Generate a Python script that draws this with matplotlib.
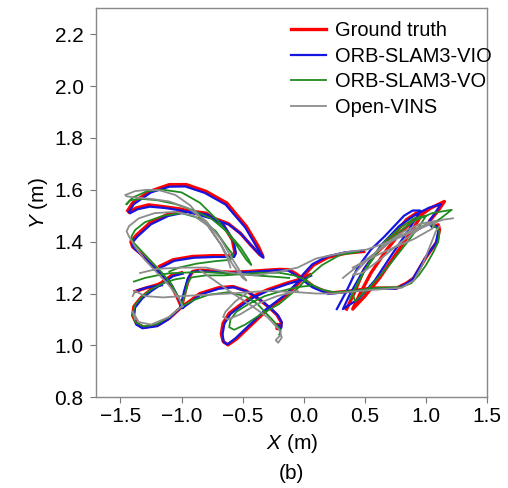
import numpy as np
import matplotlib
matplotlib.use("Agg")
import matplotlib.pyplot as plt

nan = np.nan

# Ground truth (strokes separated by nan)
gt_x = [-1.44, -1.40, -1.26, -1.10, -0.96, -0.80, -0.63, -0.47, -0.37, -0.335, -0.36, -0.44, -0.52, -0.62, -0.74, -0.88, -1.01, -1.15, -1.27, -1.37, -1.43, nan,
        -1.00, -1.04, -1.09, -1.15, -1.26, -1.34, -1.40, -1.415, -1.37, -1.26, -1.12, -0.96, -0.80, -0.66, -0.585, -0.565, -0.58, -0.74, -0.91, -1.07, -1.18, nan,
        -1.38, -1.30, -1.19, nan,
        0.35, 0.42, 0.49, 0.58, 0.68, 0.76, 0.84, 0.92, 0.98, 0.96, 0.88, 0.75, 0.62, 0.50, 0.40, 0.45, 0.55, 0.68, 0.80, 0.92, 1.04, 1.15, 1.10, 1.03, 1.06, 1.10,
        1.11, 1.09, 1.06, 1.00, 0.95, 0.90, 0.84, 0.76, 0.57, 0.35, 0.21, 0.14, 0.08, 0.00, -0.06, -0.12, -0.20, -0.30, -0.45, -0.60, -0.75, -0.85, -0.91, -0.94,
        -0.97, -1.00, -1.10, -1.19, -1.31, -1.37, -1.40, -1.39, -1.33, -1.25, -1.17, -1.08, -1.00, nan,
        -1.00, -0.92, -0.85, -0.70, -0.58, -0.47, -0.36, -0.28, -0.22, -0.185, -0.19, -0.22, -0.215, nan,
        0.49, 0.35, 0.20, 0.08, 0.00, -0.03, -0.15, -0.30, -0.45, -0.55, -0.62, -0.66, -0.675, -0.66, -0.61, -0.50, -0.42, -0.30, -0.14, -0.03, 0.05]
gt_y = [1.52, 1.55, 1.594, 1.62, 1.62, 1.594, 1.549, 1.459, 1.38, 1.343, 1.35, 1.39, 1.433, 1.47, 1.491, 1.51, 1.526, 1.535, 1.542, 1.53, 1.515, nan,
        1.148, 1.19, 1.235, 1.266, 1.317, 1.356, 1.38, 1.40, 1.425, 1.472, 1.504, 1.52, 1.51, 1.465, 1.407, 1.36, 1.346, 1.346, 1.343, 1.33, 1.305, nan,
        1.208, 1.22, 1.235, nan,
        1.14, 1.21, 1.29, 1.35, 1.395, 1.44, 1.485, 1.51, 1.517, 1.50, 1.44, 1.35, 1.26, 1.19, 1.14, 1.19, 1.28, 1.37, 1.44, 1.49, 1.53, 1.555, 1.52, 1.48, 1.459, 1.465,
        1.446, 1.40, 1.38, 1.34, 1.30, 1.26, 1.24, 1.221, 1.221, 1.208, 1.202, 1.215, 1.227, 1.255, 1.275, 1.292, 1.293, 1.29, 1.285, 1.282, 1.287, 1.29, 1.285, 1.26,
        1.21, 1.148, 1.105, 1.079, 1.07, 1.085, 1.115, 1.15, 1.185, 1.215, 1.24, 1.27, 1.28, nan,
        1.148, 1.175, 1.20, 1.222, 1.227, 1.21, 1.176, 1.145, 1.118, 1.09, 1.07, 1.065, 1.08, nan,
        1.362, 1.356, 1.34, 1.31, 1.27, 1.246, 1.19, 1.137, 1.07, 1.025, 1.002, 1.015, 1.045, 1.086, 1.124, 1.163, 1.188, 1.214, 1.24, 1.255, 1.272]

# ORB-SLAM3-VIO
vio_x = [-1.43, -1.39, -1.25, -1.10, -0.97, -0.81, -0.64, -0.48, -0.38, -0.33, -0.35, -0.43, -0.51, -0.61, -0.73, -0.87, -1.00, -1.14, -1.26, -1.36, -1.42, nan,
         -0.99, -1.03, -1.08, -1.14, -1.25, -1.33, -1.39, -1.405, -1.36, -1.25, -1.11, -0.95, -0.79, -0.65, -0.575, -0.555, -0.57, -0.73, -0.90, -1.06, -1.17, nan,
         -1.36, -1.28, -1.16, nan,
         0.27, 0.35, 0.44, 0.55, 0.66, 0.74, 0.82, 0.89, 0.95, 0.93, 0.85, 0.72, 0.58, 0.45, 0.32, 0.38, 0.50, 0.64, 0.78, 0.90, 1.02, 1.12, 1.08, 1.02, 1.05, 1.09,
         1.10, 1.08, 1.05, 0.99, 0.94, 0.89, 0.83, 0.75, 0.56, 0.34, 0.20, 0.13, 0.07, -0.01, -0.07, -0.13, -0.21, -0.31, -0.46, -0.61, -0.76, -0.86, -0.92, -0.95,
         -0.98, -1.01, -1.11, -1.20, -1.32, -1.37, -1.39, -1.38, -1.32, -1.24, -1.16, -1.07, -0.99, nan,
         -0.99, -0.91, -0.84, -0.69, -0.57, -0.46, -0.35, -0.27, -0.21, -0.18, -0.185, -0.21, -0.205, nan,
         0.48, 0.34, 0.19, 0.07, -0.01, -0.04, -0.16, -0.31, -0.46, -0.56, -0.625, -0.655, -0.665, -0.65, -0.60, -0.49, -0.41, -0.29, -0.13, -0.02, 0.06]
vio_y = [1.515, 1.545, 1.59, 1.612, 1.613, 1.588, 1.543, 1.455, 1.375, 1.338, 1.345, 1.385, 1.428, 1.465, 1.486, 1.505, 1.52, 1.53, 1.535, 1.525, 1.51, nan,
         1.145, 1.187, 1.232, 1.262, 1.312, 1.35, 1.375, 1.395, 1.42, 1.467, 1.499, 1.515, 1.505, 1.46, 1.402, 1.355, 1.341, 1.341, 1.338, 1.326, 1.300, nan,
         1.212, 1.224, 1.232, nan,
         1.14, 1.21, 1.30, 1.37, 1.42, 1.46, 1.50, 1.52, 1.52, 1.50, 1.44, 1.35, 1.25, 1.18, 1.14, 1.20, 1.30, 1.39, 1.46, 1.50, 1.53, 1.545, 1.515, 1.475, 1.455, 1.46,
         1.44, 1.395, 1.375, 1.335, 1.295, 1.255, 1.235, 1.218, 1.218, 1.205, 1.199, 1.212, 1.224, 1.252, 1.272, 1.289, 1.290, 1.287, 1.282, 1.279, 1.284, 1.287, 1.282, 1.257,
         1.207, 1.145, 1.10, 1.074, 1.066, 1.08, 1.11, 1.146, 1.182, 1.212, 1.237, 1.267, 1.277, nan,
         1.145, 1.172, 1.197, 1.219, 1.224, 1.207, 1.173, 1.142, 1.115, 1.088, 1.068, 1.062, 1.077, nan,
         1.365, 1.359, 1.343, 1.313, 1.272, 1.248, 1.192, 1.139, 1.072, 1.027, 1.004, 1.012, 1.042, 1.083, 1.121, 1.16, 1.185, 1.211, 1.237, 1.252, 1.269]

# ORB-SLAM3-VO
vo_x = [-1.45, -1.40, -1.28, -1.15, -1.00, -0.85, -0.70, -0.57, -0.47, -0.43, -0.45, -0.52, -0.63, -0.76, -0.90, -1.05, -1.20, -1.33, -1.42, -1.45, nan,
        -0.99, -1.03, -1.09, -1.16, -1.26, -1.34, -1.40, -1.41, -1.38, -1.30, -1.15, -1.00, -0.85, -0.72, -0.63, -0.58, -0.60, -0.72, -0.88, -1.02, -1.10, nan,
        -1.39, -1.30, -1.20, -1.10, -1.00, -0.85, -0.70, -0.55, -0.40, -0.25, -0.12, nan,
        0.38, 0.45, 0.55, 0.66, 0.78, 0.90, 1.00, 0.96, 0.85, 0.70, 0.55, 0.42, 0.40, 0.50, 0.62, 0.76, 0.90, 1.05, 1.21, 1.12, 1.04, 1.08, 1.11,
        1.10, 1.06, 1.00, 0.94, 0.88, 0.80, 0.60, 0.40, 0.25, 0.15, 0.08, 0.00, -0.08, -0.20, -0.35, -0.50, -0.65, -0.80, -0.92, -0.95,
        -0.97, -1.00, -1.10, -1.20, -1.31, -1.38, -1.40, -1.38, -1.32, -1.24, -1.15, -1.05, -0.98, nan,
        -1.00, -0.90, -0.78, -0.62, -0.48, -0.38, -0.30, -0.24, -0.20, -0.19, -0.20, -0.19, nan,
        0.45, 0.30, 0.15, 0.05, -0.05, -0.20, -0.35, -0.48, -0.57, -0.61, -0.60, -0.55, -0.45, -0.32, -0.18, -0.05, 0.05]
vo_y = [1.545, 1.57, 1.595, 1.60, 1.59, 1.55, 1.48, 1.40, 1.33, 1.31, 1.33, 1.38, 1.44, 1.49, 1.52, 1.545, 1.56, 1.565, 1.56, 1.545, nan,
        1.15, 1.19, 1.24, 1.28, 1.33, 1.37, 1.40, 1.42, 1.445, 1.475, 1.50, 1.51, 1.49, 1.44, 1.38, 1.35, 1.33, 1.325, 1.315, 1.30, 1.285, nan,
        1.246, 1.26, 1.27, 1.278, 1.28, 1.283, 1.28, 1.275, 1.27, 1.265, 1.26, nan,
        1.18, 1.25, 1.33, 1.40, 1.45, 1.49, 1.50, 1.47, 1.40, 1.31, 1.23, 1.17, 1.20, 1.29, 1.37, 1.43, 1.48, 1.51, 1.523, 1.49, 1.465, 1.455, 1.44,
        1.40, 1.36, 1.31, 1.27, 1.24, 1.225, 1.222, 1.21, 1.205, 1.215, 1.23, 1.255, 1.27, 1.28, 1.28, 1.275, 1.27, 1.27, 1.262, 1.24,
        1.20, 1.15, 1.11, 1.082, 1.073, 1.09, 1.12, 1.155, 1.19, 1.218, 1.24, 1.255, 1.26, nan,
        1.15, 1.175, 1.195, 1.205, 1.19, 1.16, 1.12, 1.09, 1.065, 1.05, 1.04, 1.06, nan,
        1.36, 1.35, 1.31, 1.27, 1.22, 1.16, 1.12, 1.08, 1.06, 1.07, 1.10, 1.13, 1.16, 1.19, 1.21, 1.225, 1.23]

# Open-VINS
ov_x = [-1.46, -1.38, -1.28, -1.18, -1.05, -0.93, -0.80, -0.68, -0.58, -0.50, -0.47, -0.50, -0.58, -0.68, -0.80, -0.95, -1.10, -1.25, -1.38, -1.45, nan,
        -0.99, -1.02, -1.10, -1.20, -1.30, -1.38, -1.43, -1.45, -1.43, -1.35, -1.22, -1.05, -0.90, -0.78, -0.68, -0.62, -0.60, nan,
        -1.34, -1.20, -1.00, -0.80, -0.60, -0.40, -0.20, -0.05, 0.10, 0.35, 0.51, 0.70, 0.90, 1.05, 1.14, 1.22, nan,
        0.32, 0.45, 0.62, 0.78, 0.89, 1.03, 0.98, 0.80, 0.62, 0.48, 0.40, 0.50, 0.66, 0.82, 0.96, 1.08, 1.05, 0.90, 0.70, 0.52, 0.40, nan,
        -1.40, -1.38, -1.30, -1.15, -1.00, -0.80, -0.60, -0.30, -0.05, 0.10, 0.25, 0.50, 0.80, 0.90, 0.97, 1.03, 1.08, 1.11, nan,
        -1.38, -1.40, -1.35, -1.25, -1.10, -1.00, nan,
        -0.85, -0.70, -0.58, -0.45, -0.30, -0.20, -0.18, -0.21, -0.23, -0.20, nan,
        -0.47, -0.56, -0.64, -0.66, -0.62, -0.52, -0.38, -0.22, -0.05]
ov_y = [1.58, 1.595, 1.60, 1.598, 1.58, 1.54, 1.47, 1.39, 1.31, 1.26, 1.25, 1.27, 1.33, 1.41, 1.48, 1.53, 1.555, 1.565, 1.57, 1.575, nan,
        1.15, 1.18, 1.23, 1.28, 1.33, 1.38, 1.42, 1.44, 1.46, 1.49, 1.51, 1.515, 1.50, 1.46, 1.39, 1.33, 1.30, nan,
        1.279, 1.295, 1.30, 1.30, 1.28, 1.27, 1.285, 1.30, 1.335, 1.36, 1.369, 1.40, 1.44, 1.47, 1.485, 1.49, nan,
        1.26, 1.31, 1.369, 1.42, 1.446, 1.472, 1.46, 1.40, 1.33, 1.28, 1.27, 1.32, 1.39, 1.44, 1.47, 1.48, 1.45, 1.41, 1.37, 1.33, 1.30, nan,
        1.19, 1.21, 1.19, 1.185, 1.19, 1.195, 1.20, 1.21, 1.205, 1.20, 1.20, 1.212, 1.222, 1.25, 1.31, 1.38, 1.44, 1.46, nan,
        1.10, 1.13, 1.09, 1.08, 1.11, 1.15, nan,
        1.29, 1.24, 1.20, 1.16, 1.11, 1.06, 1.03, 1.01, 1.02, 1.035, nan,
        1.20, 1.17, 1.13, 1.11, 1.10, 1.12, 1.16, 1.19, 1.21]

plt.rcParams['font.family'] = ['Liberation Sans', 'DejaVu Sans']
plt.rcParams['mathtext.fontset'] = 'custom'
plt.rcParams['mathtext.it'] = 'Liberation Sans:italic'
plt.rcParams['mathtext.rm'] = 'Liberation Sans'

fig = plt.figure(figsize=(5.08, 4.88), dpi=100)
ax = fig.add_axes([0.189, 0.186, 0.770, 0.797])

ax.plot(gt_x, gt_y, color='#ff0000', lw=2.4, label='Ground truth')
ax.plot(vio_x, vio_y, color='#1515e0', lw=1.6, label='ORB-SLAM3-VIO')
ax.plot(vo_x, vo_y, color='#1f8a1f', lw=1.3, label='ORB-SLAM3-VO')
ax.plot(ov_x, ov_y, color='#8c8c8c', lw=1.3, label='Open-VINS')

ax.set_xlim(-1.7, 1.5)
ax.set_ylim(0.8, 2.3)
ax.set_xticks([-1.5, -1.0, -0.5, 0.0, 0.5, 1.0, 1.5])
ax.set_yticks([0.8, 1.0, 1.2, 1.4, 1.6, 1.8, 2.0, 2.2])
ax.tick_params(labelsize=15, length=4, width=0.8, color='#777777', pad=3)
ax.tick_params(axis='y', pad=5)
for s in ax.spines.values():
    s.set_color('#888888')
    s.set_linewidth(1.0)

ax.set_xlabel('$X$ (m)', fontsize=15, labelpad=4)
ax.set_ylabel('$Y$ (m)', fontsize=15, labelpad=3)
fig.text(0.574, 0.030, '(b)', fontsize=15, ha='center', va='center')

ax.legend(loc='upper right', frameon=False, fontsize=14.4, handlelength=1.75,
          labelspacing=0.33, handletextpad=0.45, borderaxespad=0.1,
          bbox_to_anchor=(1.036, 0.993))

fig.savefig('out.png', dpi=100)
